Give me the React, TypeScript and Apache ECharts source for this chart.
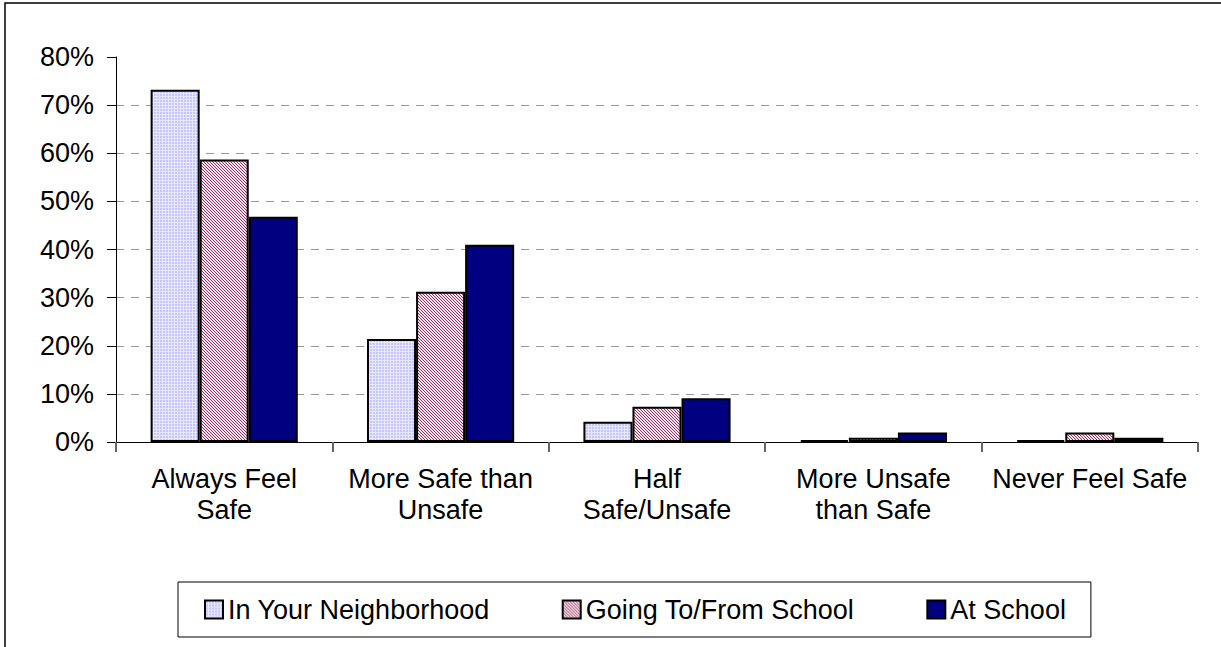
import React, { useEffect, useRef } from "react";
import * as echarts from "echarts";

const categories = [
  "Always Feel\nSafe",
  "More Safe than\nUnsafe",
  "Half\nSafe/Unsafe",
  "More Unsafe\nthan Safe",
  "Never Feel Safe",
];
const seriesNames = ["In Your Neighborhood", "Going To/From School", "At School"];
const neighborhood = [73.2, 21.4, 4.2, 0.4, 0.4];
const toFromSchool = [58.7, 31.2, 7.3, 0.9, 2.0];
const atSchool = [46.8, 41.0, 9.1, 2.0, 0.9];
const yTicks = [0, 10, 20, 30, 40, 50, 60, 70, 80];

function makeGridPattern(): HTMLCanvasElement {
  const c = document.createElement("canvas");
  c.width = 3;
  c.height = 3;
  const ctx = c.getContext("2d")!;
  ctx.fillStyle = "#c4c4ff";
  ctx.fillRect(0, 0, 3, 3);
  ctx.fillStyle = "#e8e8ff";
  ctx.fillRect(0, 0, 3, 1);
  ctx.fillRect(0, 0, 1, 3);
  return c;
}

function makeHatchPattern(): HTMLCanvasElement {
  const c = document.createElement("canvas");
  const n = 3;
  c.width = n;
  c.height = n;
  const ctx = c.getContext("2d")!;
  for (let y = 0; y < n; y++) {
    for (let x = 0; x < n; x++) {
      ctx.fillStyle = (x - y + n) % n === 0 ? "#993366" : "#f4e4ec";
      ctx.fillRect(x, y, 1, 1);
    }
  }
  return c;
}

export default function App() {
  const ref = useRef<HTMLDivElement>(null);
  useEffect(() => {
    document.body.style.margin = "0";
    if (!ref.current) return;
    const chart = echarts.init(ref.current, undefined, { renderer: "svg" });
    const font = "'Liberation Sans', Arial, sans-serif";
    const p1 = { image: makeGridPattern(), repeat: "repeat" } as any;
    const p2 = { image: makeHatchPattern(), repeat: "repeat" } as any;
    const colors = [p1, p2, "#000080"];
    const data = [neighborhood, toFromSchool, atSchool];
    chart.setOption({
      animation: false,
      backgroundColor: "#ffffff",
      textStyle: { fontFamily: font },
      grid: { left: 116, right: 23, top: 57, bottom: 205, containLabel: false },
      legend: {
        data: seriesNames,
        left: 178,
        top: 582,
        orient: "horizontal",
        icon: "rect",
        itemWidth: 18,
        itemHeight: 18,
        itemGap: 72,
        padding: [14, 25, 14, 26],
        borderColor: "#000000",
        borderWidth: 1,
        textStyle: { fontSize: 27, color: "#000000", fontFamily: font },
      },
      xAxis: {
        type: "category",
        data: categories,
        axisLine: { lineStyle: { color: "#000000", width: 1 } },
        axisTick: { show: true, length: 10, lineStyle: { color: "#666666", width: 2 } },
        axisLabel: {
          fontSize: 27,
          lineHeight: 31,
          color: "#000000",
          margin: 21,
          interval: 0,
          fontFamily: font,
        },
      },
      yAxis: {
        type: "value",
        min: yTicks[0],
        max: yTicks[yTicks.length - 1],
        interval: 10,
        axisLine: { show: true, lineStyle: { color: "#000000", width: 1 } },
        axisTick: { show: true, length: 9, lineStyle: { color: "#000000" } },
        axisLabel: {
          formatter: "{value}%",
          fontSize: 27,
          color: "#000000",
          margin: 22,
          fontFamily: font,
        },
        splitLine: {
          show: true,
          showMaxLine: false,
          lineStyle: { color: "#999999", type: [8, 7], width: 1 },
        },
      },
      series: seriesNames.map((name, i) => ({
        name,
        type: "bar",
        data: data[i],
        barGap: "0%",
        barCategoryGap: "32%",
        itemStyle: { color: colors[i], borderColor: "#000000", borderWidth: 2 },
      })),
      graphic: [
        {
          type: "rect",
          shape: { x: 5, y: 3, width: 1300, height: 700 },
          style: { fill: "none", stroke: "#000000", lineWidth: 1.5 },
          silent: true,
          z: 100,
        },
      ],
    });
    return () => chart.dispose();
  }, []);
  return <div ref={ref} style={{ width: 1221, height: 647 }} />;
}
